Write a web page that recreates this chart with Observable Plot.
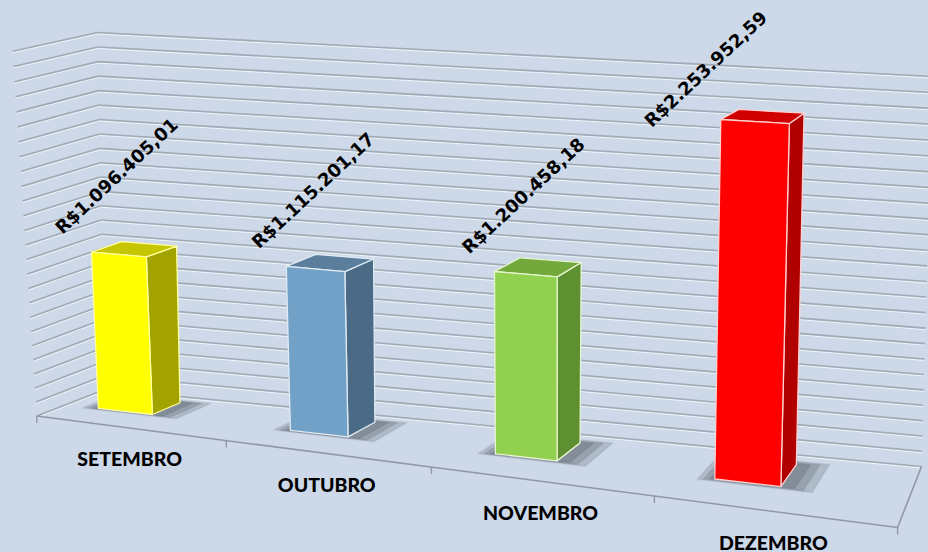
<!DOCTYPE html>
<html><head><meta charset="utf-8">
<script src="https://cdn.jsdelivr.net/npm/d3@7"></script>
<script src="https://cdn.jsdelivr.net/npm/@observablehq/plot@0.6"></script>
<style>
html,body{margin:0;padding:0;background:#cdd9e9;}
#chart{position:relative;width:928px;height:552px;overflow:hidden;}
</style></head><body><div id="chart"></div><script>
// ---- data ----
const months = ["SETEMBRO","OUTUBRO","NOVEMBRO","DEZEMBRO"];
const revenue = [1096405.01, 1115201.17, 1200458.18, 2253952.59];
const valueLabels = ["R$1.096.405,01","R$1.115.201,17","R$1.200.458,18","R$2.253.952,59"];
const gridStep = 100000;
const yMax = 2500000;
// ---- styles ----
const frontColors = ["#ffff00","#71a1c7","#92d050","#ff0000"];
const sideColors  = ["#a3a300","#4a6a86","#5e8f30","#b00000"];
const topColors   = ["#c6c600","#5a7e9c","#72a83c","#d00000"];
const edgeColors  = ["#ffff9e","#dfeaf3","#e6f5cf","#ffd0d0"];
const shadowColor = "#26303a";

// ---- view: front plane (depth 0) and back wall (depth 1), world [slot, value in millions] -> view
const frontPlane = [[0,0,35,413],[1,0,227,441],[2,0,432,468],[3,0,654,496],[4,0,896,527],[0,2.5,12,52],[4,2.5,915,97]];
const backPlane  = [[0,0,104,389],[4,0,921,466],[4,2.5,932,76],[0,2.5,97,32]];
function lsq(A,b){
  const n=A[0].length, M=Array.from({length:n},()=>new Array(n+1).fill(0));
  for(let r=0;r<A.length;r++) for(let i=0;i<n;i++){ for(let j=0;j<n;j++) M[i][j]+=A[r][i]*A[r][j]; M[i][n]+=A[r][i]*b[r]; }
  for(let i=0;i<n;i++){
    let p=i; for(let k=i+1;k<n;k++) if(Math.abs(M[k][i])>Math.abs(M[p][i])) p=k;
    [M[i],M[p]]=[M[p],M[i]];
    for(let k=0;k<n;k++){ if(k===i) continue; const f=M[k][i]/M[i][i]; for(let j=i;j<=n;j++) M[k][j]-=f*M[i][j]; }
  }
  return M.map((row,i)=>row[n]/row[i]);
}
function fitH(pts){
  const A=[],b=[];
  for(const [s,t,u,v] of pts){ A.push([s,t,1,0,0,0,-u*s,-u*t]); b.push(u); A.push([0,0,0,s,t,1,-v*s,-v*t]); b.push(v); }
  const h=lsq(A,b);
  return (s,t)=>{ const w=h[6]*s+h[7]*t+1; return [(h[0]*s+h[1]*t+h[2])/w,(h[3]*s+h[4]*t+h[5])/w]; };
}
const H0 = fitH(frontPlane), H1 = fitH(backPlane);
function project(X,Y,Z){ const a=H0(X,Y), b=H1(X,Y); return [a[0]+(b[0]-a[0])*Z, a[1]+(b[1]-a[1])*Z]; }

// world scales from Plot
const xs = Plot.scale({x:{type:"band", domain:months, range:[0,4], padding:0}});
const ys = Plot.scale({y:{type:"linear", domain:[0,yMax], range:[0,2.5]}});
const barX0 = 0.175, barX1 = 0.463, barZ0 = 0.43, barZ1 = 0.83;

// grid
const seg = (p,q) => { const a=project(...p), b=project(...q); return {x1:a[0],y1:a[1],x2:b[0],y2:b[1]}; };
const gridValues = d3.range(0, yMax + 1, gridStep);
const backLines = gridValues.map(v => seg([0,ys.apply(v),1],[4,ys.apply(v),1]));
const sideLines = gridValues.map(v => seg([0,ys.apply(v),0],[0,ys.apply(v),1]));
const floorEdges = [seg([0,0,0],[4,0,0]), seg([4,0,0],[4,0,1])];
const tickPts = d3.range(0, months.length + 1).map(i => { const a=project(i,0,0); return {x:a[0], y:a[1]}; });

// bars and soft floor shadows (three stacked translucent layers)
const polys = [], shadows = [];
const shadowLayers = [[0.07,0.14,0.04,0.06],[0.045,0.1,0.025,0.04],[0.02,0.06,0.01,0.02]];
months.forEach((m,i) => {
  const x0 = xs.apply(m) + barX0, x1 = xs.apply(m) + barX1, h = ys.apply(revenue[i]);
  const faces = [
    ["side", [[x1,0,barZ0],[x1,0,barZ1],[x1,h,barZ1],[x1,h,barZ0]], sideColors[i]],
    ["top",  [[x0,h,barZ0],[x1,h,barZ0],[x1,h,barZ1],[x0,h,barZ1]], topColors[i]],
    ["front",[[x0,0,barZ0],[x1,0,barZ0],[x1,h,barZ0],[x0,h,barZ0]], frontColors[i]]
  ];
  for (const [name, pts, col] of faces) pts.forEach(p => { const s=project(...p); polys.push({id:m+name, x:s[0], y:s[1], fill:col, stroke:edgeColors[i]}); });
  shadowLayers.forEach(([l,r,f,b],k) => {
    [[x0-l,barZ0-f],[x1+r,barZ0-f],[x1+r,barZ1+b],[x0-l,barZ1+b]].forEach(([X,Z]) => { const s=project(X,0,Z); shadows.push({id:m+k, x:s[0], y:s[1], fill:shadowColor}); });
  });
});

// labels
const catLabels = months.map((m,i) => { const s=project(xs.apply(m)+0.5,0,0); return {x:s[0], y:s[1]+32, text:m}; });
const valLabels = months.map((m,i) => {
  const s = project(xs.apply(m)+(barX0+barX1)/2, ys.apply(revenue[i]), barZ0);
  let x = s[0]-2, y = s[1]-78;
  const minY = 69; if (y < minY) { const t = minY - y; x -= 1.8*t; y += t; }
  return {x, y, text:valueLabels[i]};
});

const chart = Plot.plot({
  width:928, height:552, margin:0,
  x:{type:"identity", axis:null}, y:{type:"identity", axis:null}, color:{type:"identity"},
  style:{background:"transparent", overflow:"visible"},
  marks:[
    Plot.link(sideLines, {x1:"x1",y1:"y1",x2:"x2",y2:"y2", stroke:"#eef3f8", strokeWidth:1, dy:1.5}),
    Plot.link(backLines, {x1:"x1",y1:"y1",x2:"x2",y2:"y2", stroke:"#eef3f8", strokeWidth:1, dy:1.5}),
    Plot.link(sideLines, {x1:"x1",y1:"y1",x2:"x2",y2:"y2", stroke:"#a0aab5", strokeWidth:1.6}),
    Plot.link(backLines, {x1:"x1",y1:"y1",x2:"x2",y2:"y2", stroke:"#a0aab5", strokeWidth:1.6}),
    Plot.link(floorEdges, {x1:"x1",y1:"y1",x2:"x2",y2:"y2", stroke:"#8f99a4", strokeWidth:1.6}),
    Plot.link(tickPts, {x1:"x",y1:"y",x2:"x",y2:d=>d.y+7, stroke:"#8f99a4", strokeWidth:1.4}),
    Plot.line(shadows, {x:"x", y:"y", z:"id", fill:"fill", fillOpacity:0.18, stroke:"fill", strokeOpacity:0.05, strokeWidth:2, curve:"linear-closed"}),
    Plot.line(polys, {x:"x", y:"y", z:"id", fill:"fill", stroke:"stroke", strokeWidth:1.3, strokeLinejoin:"round", curve:"linear-closed"}),
    Plot.text(valLabels, {x:"x", y:"y", text:"text", rotate:-43, fontSize:18, fontWeight:"bold", fontFamily:"'DejaVu Sans', sans-serif", fill:"#000"}),
    Plot.text(catLabels, {x:"x", y:"y", text:"text", fontSize:19.5, fontWeight:900, fontFamily:"Lato, 'Open Sans', sans-serif", fill:"#000"})
  ]
});
document.getElementById("chart").append(chart);
</script></body></html>
